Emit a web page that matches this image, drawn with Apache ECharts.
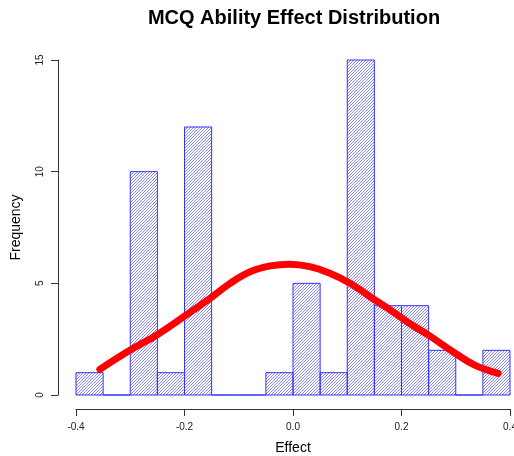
<!DOCTYPE html>
<html>
<head>
<meta charset="utf-8">
<script src="https://cdn.jsdelivr.net/npm/echarts@6/dist/echarts.min.js"></script>
<style>html,body{margin:0;padding:0;background:#fff}#c{width:514px;height:456px}</style>
</head>
<body>
<div id="c"></div>
<script>
// Histogram bins (left edge, right edge) and counts
var binStarts = [-0.40,-0.35,-0.30,-0.25,-0.20,-0.15,-0.10,-0.05,0.00,0.05,0.10,0.15,0.20,0.25,0.30,0.35];
var binEnds   = [-0.35,-0.30,-0.25,-0.20,-0.15,-0.10,-0.05,0.00,0.05,0.10,0.15,0.20,0.25,0.30,0.35,0.40];
var counts    = [1,0,10,1,12,0,0,1,5,1,15,4,4,2,0,2];
// Fitted normal curve
var curveX = [-0.356,-0.30,-0.251,-0.19,-0.153,-0.116,-0.079,-0.042,-0.006,0.031,0.068,0.105,0.142,0.179,0.215,0.249,0.299,0.335,0.378];
var curveY = [1.15,2.01,2.69,3.70,4.33,5.00,5.52,5.78,5.86,5.75,5.45,5.00,4.40,3.81,3.20,2.69,1.87,1.34,0.97];
var xTicks = [-0.4,-0.2,0.0,0.2,0.4];
var yTicks = [0,5,10,15];

var FONT = '"Liberation Sans", Arial, Helvetica, sans-serif';

// hatch pattern
var pc = document.createElement('canvas');
pc.width = 3; pc.height = 3;
var pctx = pc.getContext('2d');
pctx.fillStyle = 'rgba(60,60,255,0.62)';
pctx.fillRect(2,0,1,1); pctx.fillRect(1,1,1,1); pctx.fillRect(0,2,1,1);

var barData = binStarts.map(function(s,i){ return [s, binEnds[i], counts[i]]; });
var curveData = curveX.map(function(x,i){ return [x, curveY[i]]; });

var chart = echarts.init(document.getElementById('c'), null, {renderer:'canvas'});
chart.setOption({
  animation: false,
  backgroundColor: '#fff',
  grid: {left: 76, right: 4, top: 60, bottom: 61, containLabel: false, outerBoundsMode: 'none'},
  graphic: [{
    type: 'text', x: 294, y: 18,
    style: {text: 'MCQ Ability Effect Distribution', textAlign: 'center', textVerticalAlign: 'middle',
      font: 'bold 20px ' + FONT, fill: '#000'}
  }],
  xAxis: {
    type: 'value', min: -0.4, max: 0.4, interval: 0.2, offset: 14,
    name: 'Effect', nameLocation: 'middle', nameGap: 32,
    nameTextStyle: {fontFamily: FONT, fontSize: 14, color: '#000'},
    axisLine: {show: true, onZero: false, lineStyle: {color: '#333', width: 1}},
    axisTick: {show: true, length: 7, lineStyle: {color: '#333'}},
    axisLabel: {fontFamily: FONT, fontSize: 10, color: '#222', margin: 13, showMinLabel: true, showMaxLabel: true,
      formatter: function(v){ return v.toFixed(1); }},
    splitLine: {show: false}
  },
  yAxis: {
    type: 'value', min: 0, max: 15, interval: 5, offset: 18,
    name: 'Frequency', nameLocation: 'middle', nameGap: 35,
    nameTextStyle: {fontFamily: FONT, fontSize: 14, color: '#000'},
    axisLine: {show: true, onZero: false, lineStyle: {color: '#333', width: 1}},
    axisTick: {show: true, length: 7, lineStyle: {color: '#333'}},
    axisLabel: {fontFamily: FONT, fontSize: 10, color: '#222', margin: 13, rotate: 90},
    splitLine: {show: false}
  },
  series: [{
    type: 'custom',
    data: barData,
    encode: {x: [0,1], y: 2},
    renderItem: function(params, api){
      var p0 = api.coord([api.value(0), 0]);
      var p1 = api.coord([api.value(1), api.value(2)]);
      return {
        type: 'rect',
        shape: {x: p0[0], y: p1[1], width: p1[0]-p0[0], height: p0[1]-p1[1]},
        style: {fill: {image: pc, repeat: 'repeat'}, stroke: '#3333ff', lineWidth: 1}
      };
    },
    z: 2
  }, {
    type: 'line',
    data: curveData,
    smooth: 0.4,
    showSymbol: false,
    lineStyle: {color: '#ff0000', width: 7, cap: 'round', join: 'round'},
    z: 5
  }]
});
</script>
</body>
</html>
